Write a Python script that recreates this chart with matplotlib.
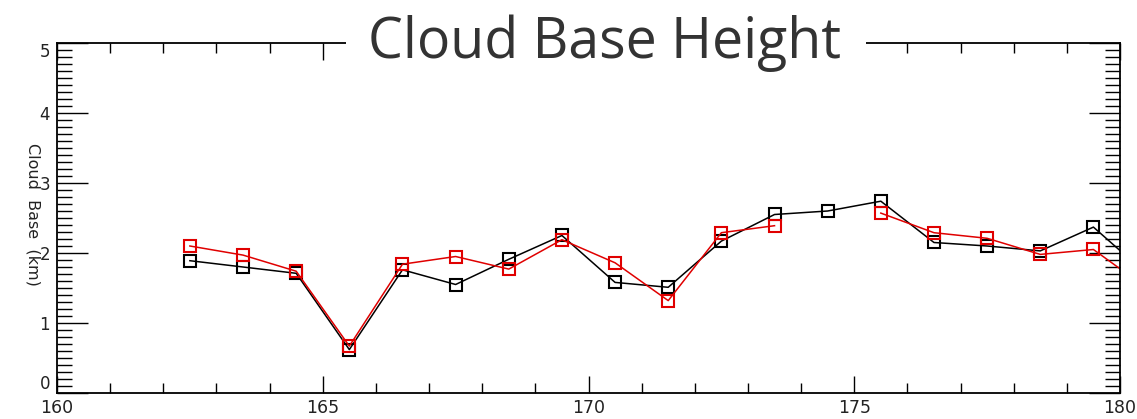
import numpy as np
import matplotlib
matplotlib.use("Agg")
import matplotlib.pyplot as plt
from matplotlib.patches import Rectangle
from matplotlib.ticker import MultipleLocator

# Data
lon = [162.5, 163.5, 164.5, 165.5, 166.5, 167.5, 168.5, 169.5, 170.5, 171.5,
       172.5, 173.5, 174.5, 175.5, 176.5, 177.5, 178.5, 179.5, 180.5]
cbh_black = [1.89, 1.80, 1.71, 0.62, 1.76, 1.55, 1.91, 2.25, 1.58, 1.51,
             2.17, 2.55, 2.60, 2.74, 2.15, 2.10, 2.03, 2.37, 1.70]
cbh_red = [2.10, 1.97, 1.74, 0.67, 1.84, 1.95, 1.77, 2.19, 1.86, 1.32,
           2.29, 2.39, np.nan, 2.57, 2.29, 2.21, 1.98, 2.05, 1.50]

x_ticks = [160, 165, 170, 175, 180]
y_ticks = [0, 1, 2, 3, 4, 5]

W, H = 1137, 419
fig = plt.figure(figsize=(W / 100, H / 100), dpi=100)
ax = fig.add_axes([57 / W, 1 - 393 / H, (1120 - 57) / W, (393 - 43) / H])

ax.plot(lon, cbh_black, color="black", lw=1.1, marker="s", ms=9,
        mfc="none", mec="black", mew=1.5)
ax.plot(lon, cbh_red, color="#e00000", lw=1.1, marker="s", ms=9,
        mfc="none", mec="#e00000", mew=1.5)

ax.set_xlim(160, 180)
ax.set_ylim(0, 5)
ax.set_xticks(x_ticks)
ax.set_yticks(y_ticks)
ax.xaxis.set_minor_locator(MultipleLocator(1))
ax.yaxis.set_minor_locator(MultipleLocator(0.1))

tick_font = "Liberation Sans Narrow"
ax.tick_params(axis="both", which="both", direction="in", top=True, right=True,
               color="black", width=1.0)
ax.tick_params(axis="x", which="major", length=12, labelsize=12.5, pad=4)
ax.tick_params(axis="x", which="minor", length=7)
ax.tick_params(axis="y", which="major", length=22, labelsize=12, pad=5)
ax.tick_params(axis="y", which="minor", length=11)
for lab in ax.get_xticklabels() + ax.get_yticklabels():
    lab.set_family([tick_font, "DejaVu Sans"])
    lab.set_color("#222222")
# end labels of y axis sit inside the axis range, like IDL does
ylabs = ax.get_yticklabels()
ylabs[0].set_va("bottom")
ylabs[-1].set_va("top")
for sp in ax.spines.values():
    sp.set_linewidth(1.3)

ax.set_ylabel("Cloud  Base  (km)", rotation=270, fontsize=11.5,
              family=[tick_font, "DejaVu Sans"], color="#222222")
ax.yaxis.set_label_coords(-0.030, 0.51)

# white patch hiding the top spine behind the title
fig.add_artist(Rectangle((346 / W, 1 - 66 / H), (866 - 346) / W, 46 / H,
                         transform=fig.transFigure, facecolor="white",
                         edgecolor="none", zorder=5))
fig.text(605 / W, 1 - 58 / H, "Cloud Base Height", ha="center", va="baseline",
         fontsize=40, family=["Open Sans", "DejaVu Sans"], color="#333333",
         zorder=6)

fig.savefig("out.png", dpi=100)
